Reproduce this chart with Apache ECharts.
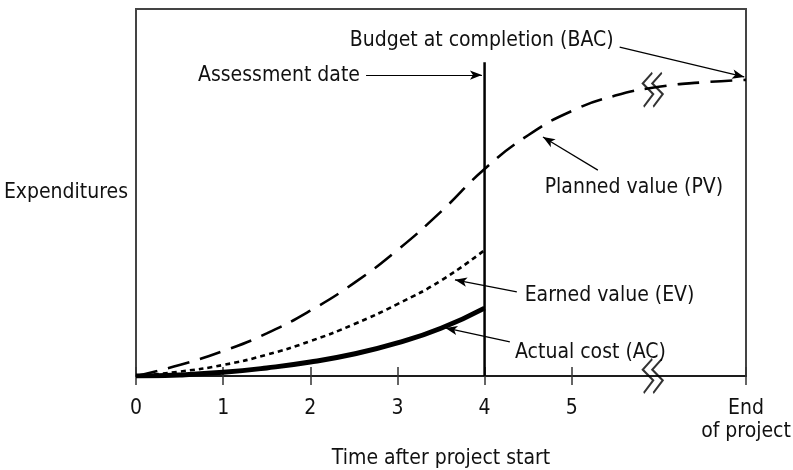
<!DOCTYPE html>
<html>
<head>
<meta charset="utf-8">
<script src="https://cdn.jsdelivr.net/npm/echarts@6/dist/echarts.min.js"></script>
<style>html,body{margin:0;padding:0;background:#fff;}#c{width:793px;height:470px;}</style>
</head>
<body>
<div id="c"></div>
<script>
// ---- data ----
const xTickValues = [0, 1, 2, 3, 4, 5, 7];
const xTickLabels = ['0', '1', '2', '3', '4', '5', 'End\nof project'];
const pvX = [0, 0.5, 1, 1.5, 2, 2.5, 3, 3.5, 4, 4.5, 5, 5.5, 6, 6.5, 7];
const pvY = [0, 3, 6.8, 11.6, 17.8, 25.3, 34.3, 44.8, 56.4, 65.6, 72.2, 76.4, 78.8, 80.0, 80.7];
const evX = [0, 0.5, 1, 1.5, 2, 2.5, 3, 3.5, 4];
const evY = [0, 1.2, 3, 5.8, 9.5, 14.1, 19.6, 26, 34.3];
const acX = [0, 0.5, 1, 1.5, 2, 2.5, 3, 3.5, 4];
const acY = [0, 0.3, 1, 2.2, 3.8, 6, 9, 13, 18.5];
const assessmentX = 4;
const assessmentTop = 85.5;
const breakX = [5.93, 5.93];
const breakY = [78, 0];
const labels = ['Budget at completion (BAC)', 'Assessment date', 'Planned value (PV)', 'Earned value (EV)', 'Actual cost (AC)'];
const labelAnchors = [[5.48, 91.4], [2.57, 82], [4.69, 51.4], [4.46, 22], [4.35, 6.4]];
const labelAligns = ['right', 'right', 'left', 'left', 'left'];
const arrows = [
  [[5.55, 89.6], [6.98, 81.5]],
  [[2.64, 82], [3.97, 82]],
  [[5.30, 56.1], [4.67, 65.1]],
  [[4.37, 22.9], [3.66, 26.2]],
  [[4.29, 9.3], [3.55, 13.1]]
];

const FONT = '"DejaVu Sans Condensed", "Liberation Sans", sans-serif';
const zip = (xs, ys) => xs.map((x, i) => [x, ys[i]]);

const chart = echarts.init(document.getElementById('c'), null, {renderer: 'canvas'});
const breakPath = 'path://M10,0 L0,11 L11,22 L1,35 M20,0 L10,11 L21,22 L11,35';

chart.setOption({
  animation: false,
  backgroundColor: '#fff',
  grid: {left: 136, right: 47, top: 9, bottom: 94, show: true, borderColor: '#444', borderWidth: 2,
         backgroundColor: 'transparent', containLabel: false, outerBoundsMode: 'none'},
  xAxis: [{
    type: 'value', min: 0, max: 7, interval: 1,
    name: 'Time after project start', nameLocation: 'middle', nameGap: 69,
    nameTextStyle: {fontFamily: FONT, fontSize: 21, color: '#111'},
    axisLine: {show: true, onZero: false, lineStyle: {color: '#111', width: 1.5}},
    axisTick: {show: true, length: 9, lineStyle: {color: '#333', width: 1.5}, customValues: xTickValues},
    axisLabel: {
      customValues: xTickValues, margin: 21, fontFamily: FONT, fontSize: 21, color: '#111', lineHeight: 23,
      verticalAlign: 'top',
      formatter: v => xTickLabels[xTickValues.indexOf(v)] ?? ''
    },
    splitLine: {show: false}
  }, {
    type: 'value', min: 0, max: 7, interval: 1, position: 'bottom',
    axisLine: {show: false},
    axisTick: {show: true, inside: true, length: 9, lineStyle: {color: '#333', width: 1.5}, customValues: xTickValues},
    axisLabel: {show: false}, splitLine: {show: false}
  }],
  yAxis: {
    type: 'value', min: 0, max: 100,
    name: 'Expenditures', nameLocation: 'middle', nameRotate: 0, nameGap: 8,
    nameTextStyle: {fontFamily: FONT, fontSize: 21, color: '#111', align: 'right', padding: [0, 0, 21, 0]},
    axisLine: {show: false}, axisTick: {show: false}, axisLabel: {show: false}, splitLine: {show: false}
  },
  series: [
    {type: 'line', name: 'PV', data: zip(pvX, pvY), smooth: true, showSymbol: false, symbol: 'none',
     lineStyle: {color: '#000', width: 2.6, type: [22, 11]}, z: 3},
    {type: 'line', name: 'EV', data: zip(evX, evY), smooth: true, showSymbol: false, symbol: 'none',
     lineStyle: {color: '#000', width: 2.6, type: [5, 4]}, z: 3},
    {type: 'line', name: 'AC', data: zip(acX, acY), smooth: true, showSymbol: false, symbol: 'none',
     lineStyle: {color: '#000', width: 5}, z: 3},
    {type: 'line', name: 'assessment', data: [[assessmentX, 0], [assessmentX, assessmentTop]], showSymbol: false, symbol: 'none',
     lineStyle: {color: '#000', width: 2.5}, z: 4,
     markLine: {
       silent: true, symbol: ['none', 'arrow'], symbolSize: [7, 12],
       lineStyle: {color: '#000', width: 1.2, type: 'solid'},
       label: {show: false},
       data: arrows.map(a => [{coord: a[0]}, {coord: a[1]}])
     }},
    {type: 'scatter', name: 'breaks', data: zip(breakX, breakY), symbol: breakPath, symbolSize: [20, 34], symbolKeepAspect: false,
     itemStyle: {color: 'none', borderColor: '#000', borderWidth: 2}, z: 5}
  ],
  graphic: []
});

const gfx = labels.map((t, i) => {
  const p = chart.convertToPixel({gridIndex: 0}, labelAnchors[i]);
  return {type: 'text', x: p[0], y: p[1], silent: true,
    style: {text: t, fontFamily: FONT, fontSize: 21, fill: '#111', align: labelAligns[i], verticalAlign: 'middle'}};
});
chart.setOption({graphic: gfx});
</script>
</body>
</html>
